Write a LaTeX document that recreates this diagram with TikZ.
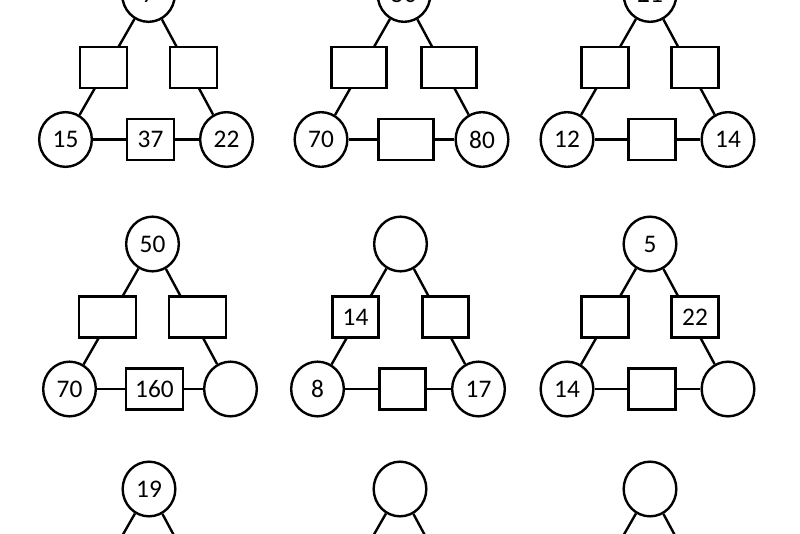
\documentclass[tikz,border=0pt]{standalone}
\usepackage{fontspec}
\setmainfont{Carlito}
\usetikzlibrary{shapes.geometric}
\tikzset{
  ring/.style={ellipse,draw,line width=1.8pt,fill=white,inner sep=0pt,
    minimum width=39.5pt,minimum height=41pt,font=\fontsize{19}{22}\selectfont},
  cell/.style={rectangle,draw,line width=1.8pt,fill=white,inner sep=0pt,
    minimum height=30.5pt,font=\fontsize{19}{22}\selectfont},
  link/.style={line width=1.8pt},
}
% #1 name, #2 left circle, #3 box width, #4-#6 circles, #7-#9 boxes
\newcommand{\puzzle}[9]{%
  \node[ring] (#1L) at (#2) {#5};
  \node[ring] (#1T) at ([shift={(83,145)}]#1L.center) {#4};
  \node[ring] (#1R) at ([shift={(161,0)}]#1L.center) {#6};
  \draw[link] (#1T) -- (#1L);
  \draw[link] (#1T) -- (#1R);
  \draw[link] (#1L) -- (#1R);
  \node[cell,minimum width=#3] (#1a) at ([shift={(38,72)}]#1L.center) {#7};
  \node[cell,minimum width=#3] (#1b) at ([shift={(128,72)}]#1L.center) {#8};
  \node[cell,minimum width=#3] (#1c) at ([shift={(85,0)}]#1L.center) {#9};
}

\begin{document}
\begin{tikzpicture}[x=0.75pt,y=0.75pt]
  \useasboundingbox (0,0) rectangle (800,533);
  \clip (0,0) rectangle (800,533);

  % first row
  \puzzle{p1}{65.5,393.5}{35pt}{7}{15}{22}{}{}{37}
  \puzzle{p2}{321,393.5}{41pt}{50}{70}{80}{}{}{}
  \puzzle{p3}{567,393.5}{35.5pt}{21}{12}{14}{}{}{}

  % second row
  \puzzle{p4}{69.5,144}{42.5pt}{50}{70}{}{}{}{160}
  \puzzle{p5}{317.5,144}{34.5pt}{}{8}{17}{14}{}{}
  \puzzle{p6}{567,144}{35pt}{5}{14}{}{}{22}{}

  % third row
  \puzzle{p7}{66,-101}{35.5pt}{19}{}{}{}{}{}
  \puzzle{p8}{317,-101}{35.5pt}{}{}{}{}{}{}
  \puzzle{p9}{567,-101}{35.5pt}{}{}{}{}{}{}
\end{tikzpicture}
\end{document}
